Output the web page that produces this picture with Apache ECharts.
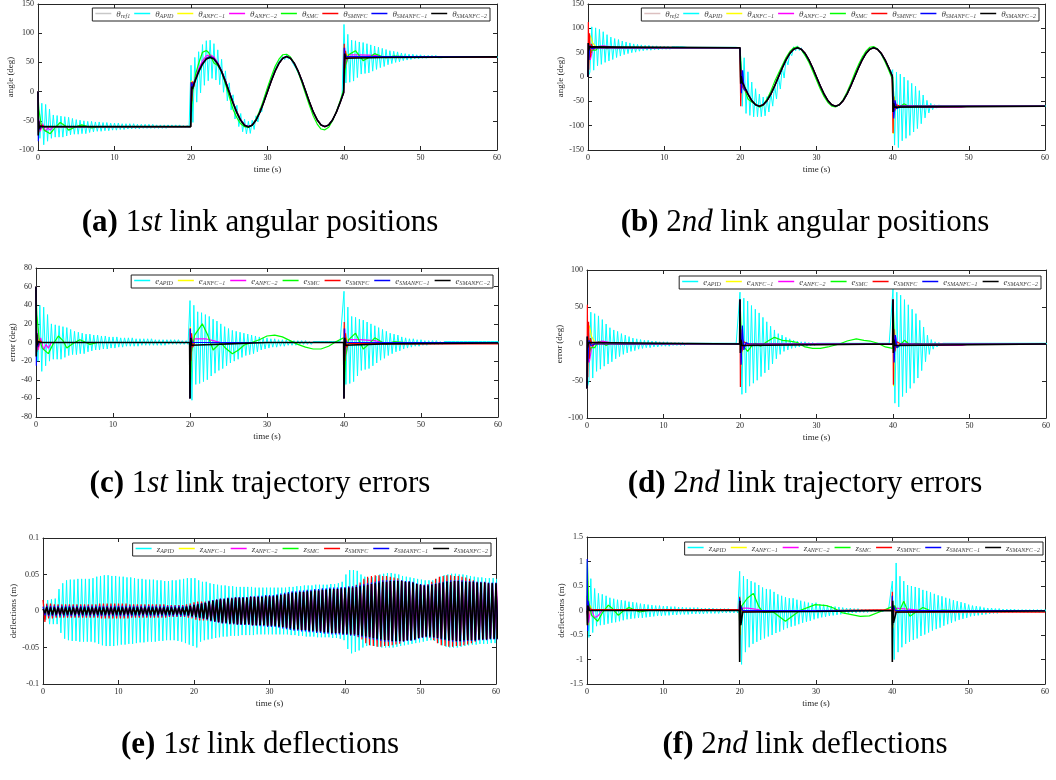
<!DOCTYPE html>
<html>
<head>
<meta charset="utf-8">
<script src="https://cdn.jsdelivr.net/npm/echarts@6/dist/echarts.min.js"></script>
<style>
  html, body { margin: 0; padding: 0; background: #fff; }
  #main { width: 1056px; height: 780px; }
</style>
</head>
<body>
<div id="main"></div>
<script>
// ---- reference trajectories (deg), sine part sampled every 0.5 s from t = 20
var sineTimesStart = 20, sineStep = 0.5;
var sineRef1 = [0,18.5,35.3,48.5,57.1,60,57.1,48.5,35.3,18.5,0,-18.5,-35.3,-48.5,-57.1,-60,-57.1,-48.5,-35.3,-18.5,
  0,18.5,35.3,48.5,57.1,60,57.1,48.5,35.3,18.5,0,-18.5,-35.3,-48.5,-57.1,-60,-57.1,-48.5,-35.3,-18.5,0];
var sineRef2 = [0,-18.5,-35.3,-48.5,-57.1,-60,-57.1,-48.5,-35.3,-18.5,0,18.5,35.3,48.5,57.1,60,57.1,48.5,35.3,18.5,
  0,-18.5,-35.3,-48.5,-57.1,-60,-57.1,-48.5,-35.3,-18.5,0,18.5,35.3,48.5,57.1,60,57.1,48.5,35.3,18.5,0];

// ---- APID oscillation envelopes, one value per 0.5 s (peak at t, trough at t+0.25)
var apidHi1 = [60,40,38,30,20,19,18,17,16,14, 12,11,10,9,9,8,8,7,7,6, 6,6,5,5,5,5,4,4,4,4, 4,3,3,3,3,3,3,3,2,2,
  45,40,33,32,30,28,25,23,20,17, 15,13,12,11,10,9,8,7,6,5, 5,4,4,3,3,3,2,2,2,2, 2,1,1,1,1,1,1,1,1,1,
  55,38,28,27,25,24,22,20,18,16, 14,12,10,9,8,6,5,4,4,3, 3,2,2,2,2,1,1,1,1,1, 1,1,1,1,1,1,1,1,1,1,1];
var apidLo1 = [-20,-31,-25,-20,-18,-18,-18,-16,-14,-13, -13,-12,-12,-10,-9,-8,-8,-7,-7,-6, -6,-5,-5,-4,-4,-4,-4,-3,-3,-3, -3,-3,-3,-3,-2,-2,-2,-2,-2,-2,
  -62,-45,-44,-42,-40,-36,-33,-30,-28,-25, -22,-20,-18,-16,-14,-13,-12,-10,-8,-7, -6,-5,-5,-4,-4,-3,-3,-3,-2,-2, -2,-2,-1,-1,-1,-1,-1,-1,-1,-1,
  -45,-44,-42,-36,-30,-29,-28,-25,-22,-19, -17,-14,-12,-10,-9,-7,-6,-5,-4,-4, -3,-3,-2,-2,-2,-2,-1,-1,-1,-1, -1,-1,-1,-1,-1,-1,-1,-1,-1,-1,-1];
var apidHi2 = [-60,43,41,38,33,27,22,19,17,14, 12,10,8,7,6,5,5,4,4,3, 3,3,2,2,2,2,1,1,1,1, 1,1,1,1,1,1,1,1,1,1,
  70,62,58,52,47,42,36,30,24,19, 14,12,9,7,5,4,3,3,2,2, 1,1,1,1,1,1,1,1,1,1, 1,1,1,1,1,1,1,1,1,1,
  75,70,66,60,53,47,41,32,23,12, 6,3,2,1,1,1,1,1,1,1, 1,1,1,1,1,1,1,1,1,1, 1,1,1,1,1,1,1,1,1,1,1];
var apidLo2 = [-50,-46,-37,-34,-30,-27,-24,-20,-17,-14, -12,-10,-9,-7,-6,-5,-5,-4,-4,-3, -3,-3,-2,-2,-2,-2,-1,-1,-1,-1, -1,-1,-1,-1,-1,-1,-1,-1,-1,-1,
  -68,-66,-57,-53,-49,-44,-39,-35,-27,-20, -14,-10,-8,-6,-5,-4,-3,-3,-2,-2, -1,-1,-1,-1,-1,-1,-1,-1,-1,-1, -1,-1,-1,-1,-1,-1,-1,-1,-1,-1,
  -80,-85,-71,-66,-60,-53,-46,-36,-24,-14, -7,-4,-2,-1,-1,-1,-1,-1,-1,-1, -1,-1,-1,-1,-1,-1,-1,-1,-1,-1, -1,-1,-1,-1,-1,-1,-1,-1,-1,-1,-1];
// link 2 angle: APID deviation from the reference read separately for t = 20 .. 26.5 (lags the sine)
var theta2ApidHi20 = [60,58,46,38,33,25,16,8,3,2,2,2,2,1];
var theta2ApidLo20 = [-51,-48,-37,-29,-23,-23,-27,-30,-33,-36,-34,-29,-17,-9];

// ---- trajectory errors (deg), [t, e] knots
var err1 = {
  'ANFC-1': [[0,60],[0.05,20],[0.15,-5],[0.3,3],[0.6,0],[19.95,0],[20,-60],[20.05,17],[20.15,-15],[20.3,3],[20.6,0],[39.95,0],[40,-60],[40.05,18],[40.15,-20],[40.3,5],[40.6,0],[60,0]],
  'ANFC-2': [[0,60],[0.1,14],[0.3,-8],[0.6,5],[1,-8],[1.3,-2],[1.6,-6],[2,0],[19.95,0],[20,-60],[20.1,10],[20.3,-5],[20.6,4],[22,4],[23,2],[24,0],[39.95,0],[40,-60],[40.1,15],[40.3,-12],[40.6,3],[42,3],[44,2],[45,0],[60,0]],
  'SMC': [[0,60],[0.1,30],[0.4,5],[0.8,-6],[1.6,-12],[2.2,-2],[2.9,7],[3.5,2],[4,-6],[4.8,-1],[5.7,3],[6.5,0],[7,-2],[8,0],[19.95,0],[20,-60],[20.2,-10],[20.6,8],[21.6,20],[22.3,8],[23,-8],[23.5,-4],[24,0],[24.6,-6],[25.5,-12],[26.3,-8],[27,-3],[28,0],[29,3],[30,7],[31,8],[32,6],[33,2],[34,-2],[35,-5],[36,-7],[37,-7],[38,-4],[39,1],[39.95,5],[40,-60],[40.2,-15],[40.6,3],[41.5,10],[42.5,-7],[43.2,-2],[44,5],[44.8,1],[45.5,-2],[46.5,1],[48,0],[60,0]],
  'SMNFC': [[0,60],[0.05,15],[0.1,-10],[0.2,8],[0.3,-5],[0.5,2],[0.8,0],[19.95,0],[20,-60],[20.03,15],[20.1,-20],[20.2,10],[20.35,-5],[20.6,0],[39.95,0],[40,-60],[40.03,22],[40.1,-20],[40.2,10],[40.35,-5],[40.6,-1],[45,-1.5],[60,-1.5]],
  'SMANFC-1': [[0,60],[0.05,-25],[0.1,10],[0.2,-5],[0.4,0],[19.95,0],[20,-60],[20.03,15],[20.08,-10],[20.15,5],[20.3,0],[39.95,0],[40,-60],[40.03,15],[40.08,-15],[40.15,5],[40.3,0],[60,0]],
  'SMANFC-2': [[0,60],[0.03,-15],[0.08,10],[0.15,-3],[0.3,1],[0.6,0],[19.95,0],[20,-60],[20.05,-15],[20.1,5],[20.2,-3],[20.4,-1.5],[25,-1.5],[30,0],[39.95,0],[40,-60],[40.05,-15],[40.1,5],[40.2,-3],[40.4,-1.5],[45,-1.5],[60,-0.5]]
};
var err2 = {
  'ANFC-1': [[0,-60],[0.1,20],[0.3,25],[0.6,10],[1,3],[1.5,0],[19.95,0],[20,60],[20.1,-30],[20.3,-5],[20.6,-3],[21,0],[39.95,0],[40,60],[40.08,-57],[40.2,20],[40.4,-5],[40.8,0],[60,0]],
  'ANFC-2': [[0,-60],[0.1,-10],[0.3,-25],[0.6,-5],[1,2],[2,4],[3,2],[4,0],[19.95,0],[20,60],[20.1,-25],[20.3,8],[20.6,-3],[21,0],[39.95,0],[40,60],[40.1,-22],[40.3,12],[40.6,-4],[41,0],[43,0],[44,-2],[49,-2],[50,0],[60,0]],
  'SMC': [[0,-60],[0.1,-20],[0.5,-5],[1,-5],[1.5,3],[2,2],[2.5,-2],[3,1],[4,0],[19.95,0],[20,60],[20.2,5],[20.6,-5],[21,-10],[21.5,-3],[22,1],[22.7,-3],[23.5,3],[24.5,9],[25.5,5],[26.5,4],[27.5,2],[28.5,-4],[29.5,-6],[30.5,-6],[31.5,-4],[33,0],[34,4],[35.2,7],[36.2,5],[37,4],[38,1],[39,-4],[39.95,-6],[40,60],[40.2,5],[40.6,-5],[41.5,5],[42.3,-2],[43,1],[44,0],[60,0]],
  'SMNFC': [[0,-60],[0.05,53],[0.1,-45],[0.2,30],[0.3,-20],[0.45,8],[0.7,-3],[1,0],[19.95,0],[20,60],[20.05,-58],[20.12,20],[20.25,-10],[20.5,3],[21,0],[39.95,0],[40,60],[40.05,-55],[40.12,20],[40.25,-10],[40.5,3],[41,0],[60,0]],
  'SMANFC-1': [[0,-60],[0.05,10],[0.12,-25],[0.25,5],[0.5,-2],[1,0],[19.95,0],[20,60],[20.05,20],[20.15,-28],[20.3,25],[20.5,-8],[20.8,2],[21.2,0],[39.95,0],[40,60],[40.05,25],[40.15,-25],[40.3,12],[40.5,-5],[41,0],[60,0]],
  'SMANFC-2': [[0,-60],[0.03,10],[0.08,-5],[0.2,2],[0.4,0],[19.95,0],[20,60],[20.05,-12],[20.12,6],[20.25,-2],[20.5,0],[39.95,0],[40,60],[40.05,-12],[40.12,6],[40.25,-2],[40.5,0],[60,0]]
};

// ---- link 1 deflections, envelopes in mm, one value per 0.5 s
var defl1ApidHi = [10,15,16,17,30,38,42,43,43,44, 44,44,44,45,47,48,49,49,48,48, 47,47,46,46,45,44,44,43,43,43, 42,42,41,41,42,42,43,44,45,45,
  45,42,40,40,38,37,36,35,35,34, 34,33,33,33,33,33,32,32,32,32, 32,32,32,32,32,33,33,34,34,35, 35,35,36,36,36,36,37,37,38,40,
  50,56,56,55,50,47,45,46,48,50, 51,52,52,51,50,48,47,46,45,44, 43,42,42,42,44,47,49,50,51,51, 50,50,49,48,47,46,46,45,45,45,44];
var defl1ApidLo = [-12,-18,-18,-18,-30,-38,-40,-41,-41,-42, -42,-42,-42,-43,-45,-47,-48,-48,-48,-47, -46,-46,-45,-45,-44,-43,-43,-42,-42,-42, -41,-41,-40,-40,-40,-41,-42,-44,-46,-48,
  -50,-42,-40,-39,-38,-37,-36,-35,-35,-34, -34,-34,-33,-33,-33,-33,-32,-32,-32,-32, -32,-32,-32,-32,-32,-33,-33,-34,-34,-35, -35,-35,-36,-36,-36,-36,-37,-37,-38,-40,
  -52,-58,-56,-54,-50,-48,-47,-48,-49,-50, -50,-50,-50,-49,-48,-47,-46,-45,-44,-43, -42,-41,-40,-41,-44,-47,-49,-50,-50,-50, -49,-48,-47,-46,-46,-45,-45,-45,-44,-44,-44];
var defl1Smanfc2Amp = [3,5,5,5,5,5,5,5,5,5, 5,5,5,5,5,5,5,5,5,5, 5,5,5,5,5,5,5,5,5,5, 5,5,5,5,5,5,5,5,6,7,
  8,9,10,11,13,14,15,16,16,17, 17,18,18,18,18,19,19,19,19,20, 20,20,21,22,23,24,25,25,26,26, 27,27,28,28,29,29,30,30,30,31,
  31,32,32,33,34,35,36,37,38,39, 40,40,41,41,41,41,40,40,39,37, 36,35,35,36,37,38,39,40,40,41, 41,40,40,40,40,39,39,39,38,38,38];
var defl1SmnfcAmp = [15,10,10,9,9,9,9,9,9,9, 9,9,9,9,9,10,10,10,10,10, 10,10,10,9,9,9,9,9,9,9, 9,9,9,8,8,8,8,8,9,10,
  12,13,13,13,14,15,16,17,17,18, 18,19,19,19,19,20,20,20,20,21, 21,21,22,23,24,25,26,26,27,27, 28,28,29,29,30,30,31,31,31,32,
  32,33,34,36,39,44,47,48,49,49, 48,48,47,46,45,42,40,39,38,37, 36,36,37,40,44,47,48,49,49,48, 48,47,46,44,42,40,39,39,38,38,38];
var defl1Smanfc1Amp = [6,7,7,7,7,7,7,7,7,7, 7,7,7,7,7,7,7,7,7,7, 7,7,7,7,7,7,7,7,7,7, 7,7,7,7,7,7,7,7,7,8,
  9,10,11,12,14,15,16,17,17,18, 18,19,19,19,19,20,20,21,21,22, 22,22,23,24,25,26,27,27,28,28, 29,29,30,30,31,31,32,32,32,33,
  33,34,34,35,36,37,38,39,40,41, 42,42,42,42,42,42,41,41,40,38, 37,36,36,37,38,39,40,41,42,42, 42,42,41,41,41,40,40,40,39,39,39];

// ---- link 2 deflections (m)
var defl2ApidHi = [0.3,0.65,0.45,0.35,0.33,0.3,0.26,0.24,0.22,0.21, 0.2,0.18,0.17,0.16,0.14,0.13,0.12,0.11,0.1,0.1, 0.09,0.09,0.08,0.08,0.07,0.07,0.06,0.06,0.06,0.06, 0.05,0.05,0.05,0.05,0.04,0.04,0.04,0.04,0.03,0.03,
  0.8,0.7,0.64,0.6,0.57,0.52,0.47,0.44,0.43,0.38, 0.33,0.3,0.27,0.25,0.25,0.22,0.2,0.18,0.16,0.15, 0.16,0.13,0.12,0.1,0.09,0.08,0.07,0.06,0.05,0.05, 0.04,0.04,0.03,0.03,0.03,0.02,0.02,0.02,0.02,0.02,
  0.6,0.97,0.7,0.6,0.52,0.5,0.48,0.46,0.42,0.4, 0.37,0.34,0.31,0.29,0.26,0.24,0.21,0.19,0.17,0.15, 0.12,0.1,0.09,0.08,0.06,0.05,0.05,0.04,0.04,0.03, 0.03,0.03,0.03,0.02,0.02,0.02,0.02,0.02,0.02,0.02,0.02];
var defl2ApidLo = [-0.55,-0.45,-0.32,-0.3,-0.29,-0.27,-0.25,-0.24,-0.22,-0.2, -0.18,-0.17,-0.16,-0.15,-0.15,-0.14,-0.13,-0.12,-0.11,-0.11, -0.1,-0.1,-0.09,-0.09,-0.08,-0.08,-0.08,-0.07,-0.07,-0.07, -0.07,-0.06,-0.06,-0.06,-0.06,-0.05,-0.05,-0.05,-0.05,-0.05,
  -1.1,-0.85,-0.75,-0.68,-0.64,-0.6,-0.57,-0.53,-0.5,-0.46, -0.43,-0.39,-0.36,-0.33,-0.31,-0.28,-0.25,-0.23,-0.21,-0.18, -0.16,-0.14,-0.13,-0.11,-0.1,-0.09,-0.08,-0.07,-0.06,-0.05, -0.05,-0.04,-0.04,-0.04,-0.03,-0.03,-0.03,-0.03,-0.02,-0.02,
  -1.0,-0.85,-0.75,-0.68,-0.64,-0.6,-0.57,-0.52,-0.49,-0.45, -0.41,-0.38,-0.35,-0.31,-0.28,-0.25,-0.22,-0.19,-0.17,-0.15, -0.12,-0.11,-0.1,-0.09,-0.08,-0.07,-0.06,-0.06,-0.05,-0.05, -0.05,-0.05,-0.04,-0.04,-0.04,-0.04,-0.04,-0.04,-0.04,-0.04,-0.04];
var defl2 = {
  'ANFC-1': [[0,0],[0.1,0.6],[0.2,-0.3],[0.4,0.1],[0.7,0],[19.95,0],[20,0.25],[20.08,-0.5],[20.2,0.1],[20.5,0],[39.95,0],[40,0.3],[40.08,-0.35],[40.2,0.1],[40.5,0],[60,0]],
  'ANFC-2': [[0,0],[0.2,-0.25],[0.5,0.05],[1,-0.15],[1.5,-0.1],[2,0],[19.95,0],[20,0.2],[20.1,-0.2],[20.3,0.05],[21,0.05],[22,0.03],[23,0],[39.95,0],[40,0.2],[40.1,-0.25],[40.3,0.05],[42,0.03],[44,0],[60,0]],
  'SMC': [[0,0],[0.05,1.0],[0.2,0.2],[0.6,-0.1],[1.4,-0.22],[2,-0.05],[2.8,0.11],[3.4,0.03],[4.1,-0.1],[4.8,0],[5.5,0.06],[6.9,-0.03],[8,0],[19.95,0],[20,-0.3],[20.3,0.1],[21,0.25],[21.8,0.35],[22.5,0.08],[23.1,-0.04],[24.4,-0.03],[26,-0.22],[27.9,0],[29.9,0.12],[31.4,0.1],[32.3,0.05],[33.5,-0.05],[35.8,-0.12],[37,-0.11],[38.8,0],[39.95,0.08],[40,-0.3],[40.3,0.1],[40.8,-0.05],[41.5,0.19],[42.3,-0.12],[43,-0.04],[44,0.06],[45.4,-0.03],[46.5,0.01],[48,0],[60,0]],
  'SMNFC': [[0,0],[0.05,0.3],[0.1,-0.2],[0.2,0.1],[0.4,0.02],[19.95,0.02],[20,0.28],[20.05,-0.2],[20.15,0.1],[20.4,-0.03],[39.95,0.02],[40,0.38],[40.05,-0.25],[40.15,0.1],[40.4,-0.035],[60,-0.035]],
  'SMANFC-1': [[0,0],[0.03,1.05],[0.08,-0.42],[0.15,0.2],[0.3,0],[19.95,0],[20,0.25],[20.05,-0.3],[20.15,0.1],[20.4,0],[39.95,0],[40,0.3],[40.05,-0.3],[40.15,0.1],[40.4,0],[60,0]],
  'SMANFC-2': [[0,0],[0.05,-0.3],[0.1,0.1],[0.3,0],[19.95,0],[20,-1.05],[20.05,0.2],[20.15,-0.3],[20.4,-0.03],[30,-0.02],[39.95,0],[40,-1.05],[40.05,0.2],[40.15,-0.25],[40.5,-0.03],[60,-0.01]]
};

var methods = ['APID', 'ANFC-1', 'ANFC-2', 'SMC', 'SMNFC', 'SMANFC-1', 'SMANFC-2'];
var colors = {
  'ref1': '#c8c8c8', 'ref2': '#dcc0c0',
  'APID': '#00ffff', 'ANFC-1': '#ffff00', 'ANFC-2': '#ff00ff', 'SMC': '#00ff00',
  'SMNFC': '#ff0000', 'SMANFC-1': '#0000ff', 'SMANFC-2': '#000000'
};
var subText = {
  'ref1': 'ref1', 'ref2': 'ref2', 'APID': 'APID', 'ANFC-1': 'ANFC\u22121', 'ANFC-2': 'ANFC\u22122',
  'SMC': 'SMC', 'SMNFC': 'SMNFC', 'SMANFC-1': 'SMANFC\u22121', 'SMANFC-2': 'SMANFC\u22122'
};

// ---- helpers
function sampled(t0, dt, vals) {
  return vals.map(function (v, i) { return [t0 + i * dt, v]; });
}
function lerp(pts, t) {
  var i = -1;
  for (var k = 0; k < pts.length; k++) { if (pts[k][0] <= t) i = k; else break; }
  if (i < 0) return pts[0][1];
  if (i === pts.length - 1) return pts[i][1];
  var a = pts[i], b = pts[i + 1];
  return a[1] + (b[1] - a[1]) * (t - a[0]) / (b[0] - a[0]);
}
// theta = theta_ref + e
function withRef(ref, err) {
  var ts = ref.map(function (p) { return p[0]; }).concat(err.map(function (p) { return p[0]; }));
  ts = Array.from(new Set(ts)).sort(function (x, y) { return x - y; });
  return ts.map(function (t) { return [t, lerp(ref, t) + lerp(err, t)]; });
}
function zig(hi, lo, center, phase) {
  var out = [];
  hi.forEach(function (h, i) {
    var t = i * 0.5 + phase;
    out.push([t, center(t) + h]);
    out.push([t + 0.25, center(t + 0.25) + lo[i]]);
  });
  return out;
}
function mm(a) { return a.map(function (v) { return v / 1000; }); }
function negmm(a) { return a.map(function (v) { return -v / 1000; }); }
function zero() { return 0; }

var ref1 = [[0, -60], [20, -60]].concat(sampled(sineTimesStart, sineStep, sineRef1)).concat([[40, 60], [60, 60]]);
var ref2 = [[0, 60], [20, 60]].concat(sampled(sineTimesStart, sineStep, sineRef2)).concat([[40, -60], [60, -60]]);
function at1(t) { return lerp(ref1, t); }
function at2(t) { return lerp(ref2, t); }

var theta2Hi = apidHi2.slice(0, 40).concat(theta2ApidHi20).concat(apidHi2.slice(54));
var theta2Lo = apidLo2.slice(0, 40).concat(theta2ApidLo20).concat(apidLo2.slice(54));

function angleSeries(ref, at, hi, lo, err) {
  var s = { 'APID': zig(hi, lo, at, 0) };
  methods.slice(1).forEach(function (m) { s[m] = withRef(ref, err[m]); });
  return s;
}
function errorSeries(hi, lo, err) {
  var s = { 'APID': zig(hi, lo, zero, 0) };
  methods.slice(1).forEach(function (m) { s[m] = err[m]; });
  return s;
}

var d1 = {
  'APID': zig(mm(defl1ApidHi), mm(defl1ApidLo), zero, 0.12),
  'ANFC-1': [[0, 0], [60, 0]],
  'ANFC-2': zig(mm(defl1Smanfc2Amp), negmm(defl1Smanfc2Amp), zero, 0.06),
  'SMC': [[0, 0], [60, 0]],
  'SMNFC': zig(mm(defl1SmnfcAmp), negmm(defl1SmnfcAmp), zero, 0),
  'SMANFC-1': zig(mm(defl1Smanfc1Amp), negmm(defl1Smanfc1Amp), zero, 0),
  'SMANFC-2': zig(mm(defl1Smanfc2Amp), negmm(defl1Smanfc2Amp), zero, 0)
};
var d2 = errorSeries(defl2ApidHi, defl2ApidLo, defl2);

var panels = [
  { id: 'a', grid: [38, 4, 459, 146], y: [-100, 150, 50], yName: 'angle (deg)', sym: '\u03b8', ref: 'ref1', refData: ref1,
    data: angleSeries(ref1, at1, apidHi1, apidLo1, err1), legend: [566, 8], gap: 4, nameGap: 19,
    cap: [260, 223, '(a)', '1', 'st', ' link angular positions'] },
  { id: 'b', grid: [588, 4, 457, 146], y: [-150, 150, 50], yName: 'angle (deg)', sym: '\u03b8', ref: 'ref2', refData: ref2,
    data: angleSeries(ref2, at2, theta2Hi, theta2Lo, err2), legend: [17, 8], gap: 4, nameGap: 20,
    cap: [805, 223, '(b)', '2', 'nd', ' link angular positions'] },
  { id: 'c', grid: [36, 268, 462, 149], y: [-80, 80, 20], yName: 'error (deg)', sym: 'e',
    data: errorSeries(apidHi1, apidLo1, err1), legend: [563, 275], gap: 5, nameGap: 17,
    cap: [260, 484, '(c)', '1', 'st', ' link trajectory errors'] },
  { id: 'd', grid: [587, 270, 459, 148], y: [-100, 100, 50], yName: 'error (deg)', sym: 'e',
    data: errorSeries(apidHi2, apidLo2, err2), legend: [15, 276], gap: 5, nameGap: 18,
    cap: [805, 484, '(d)', '2', 'nd', ' link trajectory errors'] },
  { id: 'e', grid: [43, 538, 453, 146], y: [-0.1, 0.1, 0.05], yName: 'deflections (m)', sym: 'z',
    data: d1, legend: [565, 543], gap: 5, nameGap: 22,
    cap: [260, 745, '(e)', '1', 'st', ' link deflections'] },
  { id: 'f', grid: [587, 537, 458, 147], y: [-1.5, 1.5, 0.5], yName: 'deflections (m)', sym: 'z',
    data: d2, legend: [13, 542], gap: 5, nameGap: 18,
    cap: [805, 745, '(f)', '2', 'nd', ' link deflections'] }
];

var FONT = 'Liberation Serif';
var AX = '#262626';
var grids = [], xAxes = [], yAxes = [], series = [], legends = [], graphics = [];

panels.forEach(function (p, g) {
  grids.push({ left: p.grid[0], top: p.grid[1], width: p.grid[2], height: p.grid[3] });
  var line = { show: true, onZero: false, lineStyle: { color: AX, width: 1 } };
  var tick = { show: true, inside: true, length: 4, lineStyle: { color: AX, width: 1 } };
  xAxes.push({
    gridIndex: g, type: 'value', min: 0, max: 60, interval: 10,
    axisLine: line, axisTick: tick, splitLine: { show: false },
    axisLabel: { fontFamily: FONT, fontSize: 8, color: AX, margin: 4 },
    name: 'time (s)', nameLocation: 'middle', nameGap: 15,
    nameTextStyle: { fontFamily: FONT, fontSize: 9, color: AX }
  });
  xAxes.push({
    gridIndex: g, type: 'value', position: 'top', min: 0, max: 60, interval: 10,
    axisLine: line, axisTick: tick, splitLine: { show: false }, axisLabel: { show: false }
  });
  yAxes.push({
    gridIndex: g, type: 'value', min: p.y[0], max: p.y[1], interval: p.y[2],
    axisLine: line, axisTick: tick, splitLine: { show: false },
    axisLabel: { fontFamily: FONT, fontSize: 8, color: AX, margin: 4,
      formatter: function (v) { return String(Math.round(v * 100) / 100); } },
    name: p.yName, nameLocation: 'middle', nameGap: p.nameGap,
    nameTextStyle: { fontFamily: FONT, fontSize: 9, color: AX }
  });
  yAxes.push({
    gridIndex: g, type: 'value', position: 'right', min: p.y[0], max: p.y[1], interval: p.y[2],
    axisLine: line, axisTick: tick, splitLine: { show: false }, axisLabel: { show: false }
  });

  var keys = (p.ref ? [p.ref] : []).concat(methods);
  var names = [];
  keys.forEach(function (k) {
    var name = p.id + '|' + k;
    names.push(name);
    var data = (k === p.ref) ? p.refData : p.data[k];
    series.push({
      type: 'line', name: name, data: data,
      xAxisIndex: 2 * g, yAxisIndex: 2 * g,
      symbol: 'none', showSymbol: false, silent: true, animation: false,
      clip: true,
      lineStyle: { color: colors[k], width: k === 'SMANFC-2' ? 1.6 : (k === 'APID' ? 1 : 1.2) },
      itemStyle: { color: colors[k] }
    });
  });

  legends.push({
    data: names, right: p.legend[0], top: p.legend[1], orient: 'horizontal',
    selectedMode: false, icon: 'rect', itemWidth: 16, itemHeight: 1.5, itemGap: p.gap,
    padding: [2, 3, 2, 3], borderColor: '#222', borderWidth: 1, backgroundColor: '#fff',
    formatter: function (n) {
      var k = n.split('|')[1];
      return '{m|' + p.sym + '}{s|' + subText[k] + '}';
    },
    textStyle: {
      fontFamily: FONT, color: '#444', fontSize: 9,
      rich: {
        m: { fontFamily: FONT, fontStyle: 'italic', fontSize: 9, color: '#444', lineHeight: 11, verticalAlign: 'bottom' },
        s: { fontFamily: FONT, fontStyle: 'italic', fontSize: 6, color: '#444', lineHeight: 9, verticalAlign: 'bottom' }
      }
    }
  });

  var c = p.cap;
  graphics.push({
    type: 'text', x: c[0], y: c[1], z: 10,
    style: {
      text: '{b|' + c[2] + '}{n| ' + c[3] + '}{i|' + c[4] + '}{n|' + c[5] + '}',
      align: 'center', verticalAlign: 'middle',
      font: '31px "Liberation Serif"', fill: '#000',
      rich: {
        b: { fontFamily: FONT, fontSize: 31, fontWeight: 'bold', fill: '#000' },
        n: { fontFamily: FONT, fontSize: 31, fill: '#000' },
        i: { fontFamily: FONT, fontSize: 31, fontStyle: 'italic', fill: '#000' }
      }
    }
  });
});

var chart = echarts.init(document.getElementById('main'), null, { renderer: 'canvas' });
chart.setOption({
  backgroundColor: '#fff',
  animation: false,
  grid: grids,
  xAxis: xAxes,
  yAxis: yAxes,
  legend: legends,
  series: series,
  graphic: graphics
});
</script>
</body>
</html>
